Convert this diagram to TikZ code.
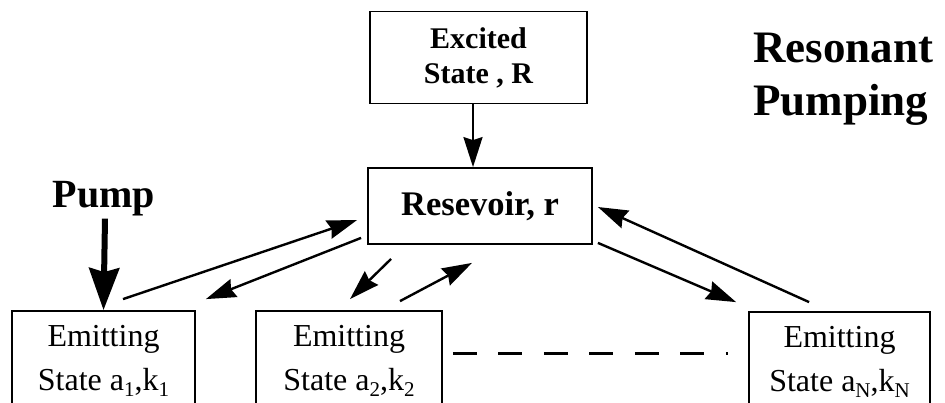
\documentclass[tikz,border=0pt]{standalone}
\usepackage{fontspec}
\setmainfont{Liberation Serif}
\usetikzlibrary{arrows.meta,calc}
\newcommand\lowsub[1]{\raisebox{-6pt}{\fontsize{21}{21}\selectfont #1}}
\begin{document}
\begin{tikzpicture}[x=1pt,y=-1pt,
  box/.style={draw, line width=1.8pt, inner sep=0pt, align=center},
  topbox/.style={box, font=\fontsize{30}{35}\selectfont\bfseries},
  emit/.style={box, minimum height=100pt, font=\fontsize{32}{44}\selectfont},
  arr/.style={line width=2.4pt, -{Stealth[length=30pt,width=19pt,inset=3pt]}},
  pumparr/.style={line width=6pt, -{Stealth[length=42pt,width=30pt,inset=4pt]}},
  dots/.style={line width=3pt, dash pattern=on 24pt off 21.5pt}]
\useasboundingbox (0,0) rectangle (945,402);
\clip (0,0) rectangle (945,402);
\node[topbox, minimum width=217pt, minimum height=92pt] (exc) at (478.5,57.5) {Excited\\State , R};
\node[topbox, minimum width=224pt, minimum height=76pt, font=\fontsize{34.5}{40}\selectfont\bfseries] (res) at (480,206) {Resevoir, r};
\node[emit, minimum width=183pt] (e1) at (103.5,361) {Emitting\\State a\lowsub{1},k\lowsub{1}};
\node[emit, minimum width=186pt] (e2) at (349,361) {Emitting\\State a\lowsub{2},k\lowsub{2}};
\node[emit, minimum width=181pt] (eN) at (839.5,362) {Emitting\\State a\lowsub{N},k\lowsub{N}};
\node[inner sep=0pt, font=\fontsize{40}{40}\selectfont\bfseries] (pump) at (104,199) {Pump};
\node[anchor=base west, inner sep=0pt, align=left, font=\fontsize{45}{53}\selectfont\bfseries] (title) at (753,115) {Resonant\\Pumping};
\draw[arr] ($(exc.south)+(-5.5,0)$) -- ($(res.north)+(-7,0)$);
\draw[pumparr] ($(pump.south)+(1,2)$) -- (e1.north);
\draw[arr] ($(e1.north)+(19.5,-11)$) -- ($(res.west)+(-10,14)$);
\draw[arr] ($(res.south west)+(-6,-7)$) -- ($(e1.north east)+(10,-11)$);
\draw[arr] ($(res.south west)+(24,14)$) -- ($(e2.north)+(1,-11)$);
\draw[arr] ($(e2.north)+(51,-9)$) -- ($(res.south)+(-8,18)$);
\draw[arr] ($(res.south east)+(5,-2)$) -- ($(eN.north west)+(-12,-9)$);
\draw[arr] ($(eN.north west)+(61,-9)$) -- ($(res.east)+(5,1)$);
\draw[dots] ($(e2.east)+(10,-8)$) -- ($(eN.west)+(-20,-9)$);
\end{tikzpicture}
\end{document}
